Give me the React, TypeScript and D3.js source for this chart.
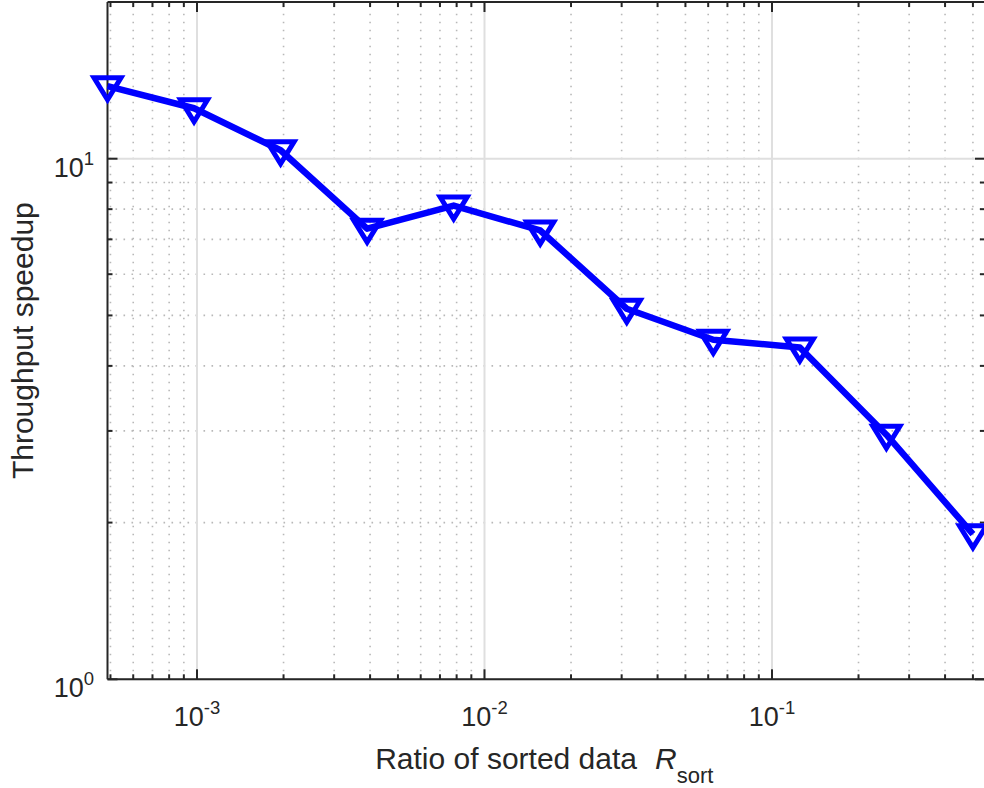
import React from "react";
import * as d3 from "d3";

const ratioSorted = [
  0.00048828125, 0.0009765625, 0.001953125, 0.00390625, 0.0078125, 0.015625,
  0.03125, 0.0625, 0.125, 0.25, 0.5,
];
const speedup = [13.78, 12.5, 10.38, 7.34, 8.13, 7.28, 5.15, 4.49, 4.34, 2.95, 1.9];

const xMajorTicks = [1e-3, 1e-2, 1e-1];
const xMajorExp = ["-3", "-2", "-1"];
const yMajorTicks = [1, 10];
const yMajorExp = ["0", "1"];
const minorMultipliers = [2, 3, 4, 5, 6, 7, 8, 9];
const xDecades = [1e-4, 1e-3, 1e-2, 1e-1];
const yDecades = [1, 10];

const W = 984;
const H = 788;
const L = 107.5;
const R = 985;
const T = 2;
const B = 679.3;

const AXIS = "#262626";
const FONT = "'Liberation Sans', Arial, Helvetica, sans-serif";

export default function App() {
  const x = d3.scaleLog().domain([0.00048828125, 0.5508]).range([L, R]);
  const y = d3.scaleLog().domain([1, 20]).range([B, T]);

  const xMinor = xDecades
    .flatMap((d) => minorMultipliers.map((m) => m * d))
    .filter((v) => v >= x.domain()[0] && v <= x.domain()[1]);
  const yMinor = yDecades
    .flatMap((d) => minorMultipliers.map((m) => m * d))
    .filter((v) => v > y.domain()[0] && v < y.domain()[1]);

  const line = d3
    .line<number>()
    .x((_, i) => x(ratioSorted[i]))
    .y((d) => y(d));

  const marker = (cx: number, cy: number) =>
    `M${cx - 13.5},${cy - 8.5}L${cx + 13.5},${cy - 8.5}L${cx},${cy + 13.5}Z`;

  return (
    <svg
      width={W}
      height={H}
      style={{ position: "absolute", left: 0, top: 0, display: "block", background: "#fff" }}
      fontFamily={FONT}
    >
      <rect x={0} y={0} width={W} height={H} fill="#fff" />
      {/* minor grid */}
      <g stroke="#b8b8b8" strokeWidth={1.6} strokeDasharray="1.6,6.4">
        {xMinor.map((v, i) => (
          <line key={"xm" + i} x1={x(v)} x2={x(v)} y1={B} y2={T} />
        ))}
        {yMinor.map((v, i) => (
          <line key={"ym" + i} x1={L} x2={R} y1={y(v)} y2={y(v)} />
        ))}
      </g>
      {/* major grid */}
      <g stroke="#dfdfdf" strokeWidth={2}>
        {xMajorTicks.map((v, i) => (
          <line key={"xg" + i} x1={x(v)} x2={x(v)} y1={B} y2={T} />
        ))}
        {yMajorTicks.map((v, i) => (
          <line key={"yg" + i} x1={L} x2={R} y1={y(v)} y2={y(v)} />
        ))}
      </g>
      {/* axes box */}
      <g stroke={AXIS} strokeWidth={2} fill="none">
        <line x1={L} x2={R} y1={B} y2={B} />
        <line x1={L} x2={R} y1={T} y2={T} />
        <line x1={L} x2={L} y1={B} y2={T} />
        <line x1={R} x2={R} y1={B} y2={T} />
        {xMajorTicks.map((v, i) => (
          <g key={"xt" + i}>
            <line x1={x(v)} x2={x(v)} y1={B} y2={B - 10} />
            <line x1={x(v)} x2={x(v)} y1={T} y2={T + 10} />
          </g>
        ))}
        {xMinor.map((v, i) => (
          <g key={"xmt" + i}>
            <line x1={x(v)} x2={x(v)} y1={B} y2={B - 5} />
            <line x1={x(v)} x2={x(v)} y1={T} y2={T + 5} />
          </g>
        ))}
        {yMajorTicks.map((v, i) => (
          <g key={"yt" + i}>
            <line x1={L} x2={L + 10} y1={y(v)} y2={y(v)} />
            <line x1={R} x2={R - 10} y1={y(v)} y2={y(v)} />
          </g>
        ))}
        {yMinor.map((v, i) => (
          <g key={"ymt" + i}>
            <line x1={L} x2={L + 5} y1={y(v)} y2={y(v)} />
            <line x1={R} x2={R - 5} y1={y(v)} y2={y(v)} />
          </g>
        ))}
      </g>
      {/* tick labels */}
      <g fill={AXIS} fontSize={27}>
        {xMajorTicks.map((v, i) => (
          <text key={"xl" + i} x={x(v)} y={B + 46.7} textAnchor="middle">
            <tspan>10</tspan>
            <tspan dy={-12} fontSize={18.5}>
              {xMajorExp[i]}
            </tspan>
          </text>
        ))}
        {yMajorTicks.map((v, i) => (
          <text key={"yl" + i} x={94} y={y(v) + 18} textAnchor="end">
            <tspan>10</tspan>
            <tspan dy={-12} fontSize={18.5}>
              {yMajorExp[i]}
            </tspan>
          </text>
        ))}
      </g>
      {/* axis labels */}
      <text x={(L + R) / 2 - 2} y={769} textAnchor="middle" fill={AXIS} fontSize={30}>
        <tspan>Ratio of sorted data</tspan>
        <tspan dx={18} fontStyle="italic">R</tspan>
        <tspan dy={14} fontSize={22}>sort</tspan>
      </text>
      <text
        transform={`translate(33,${(T + B) / 2}) rotate(-90)`}
        textAnchor="middle"
        fill={AXIS}
        fontSize={30}
      >
        Throughput speedup
      </text>
      {/* data */}
      <path d={line(speedup) || ""} fill="none" stroke="#0000ff" strokeWidth={6.5} strokeLinejoin="round" />
      <g fill="none" stroke="#0000ff" strokeWidth={5} strokeLinejoin="miter">
        {speedup.map((v, i) => (
          <path key={"mk" + i} d={marker(x(ratioSorted[i]), y(v))} />
        ))}
      </g>
    </svg>
  );
}
